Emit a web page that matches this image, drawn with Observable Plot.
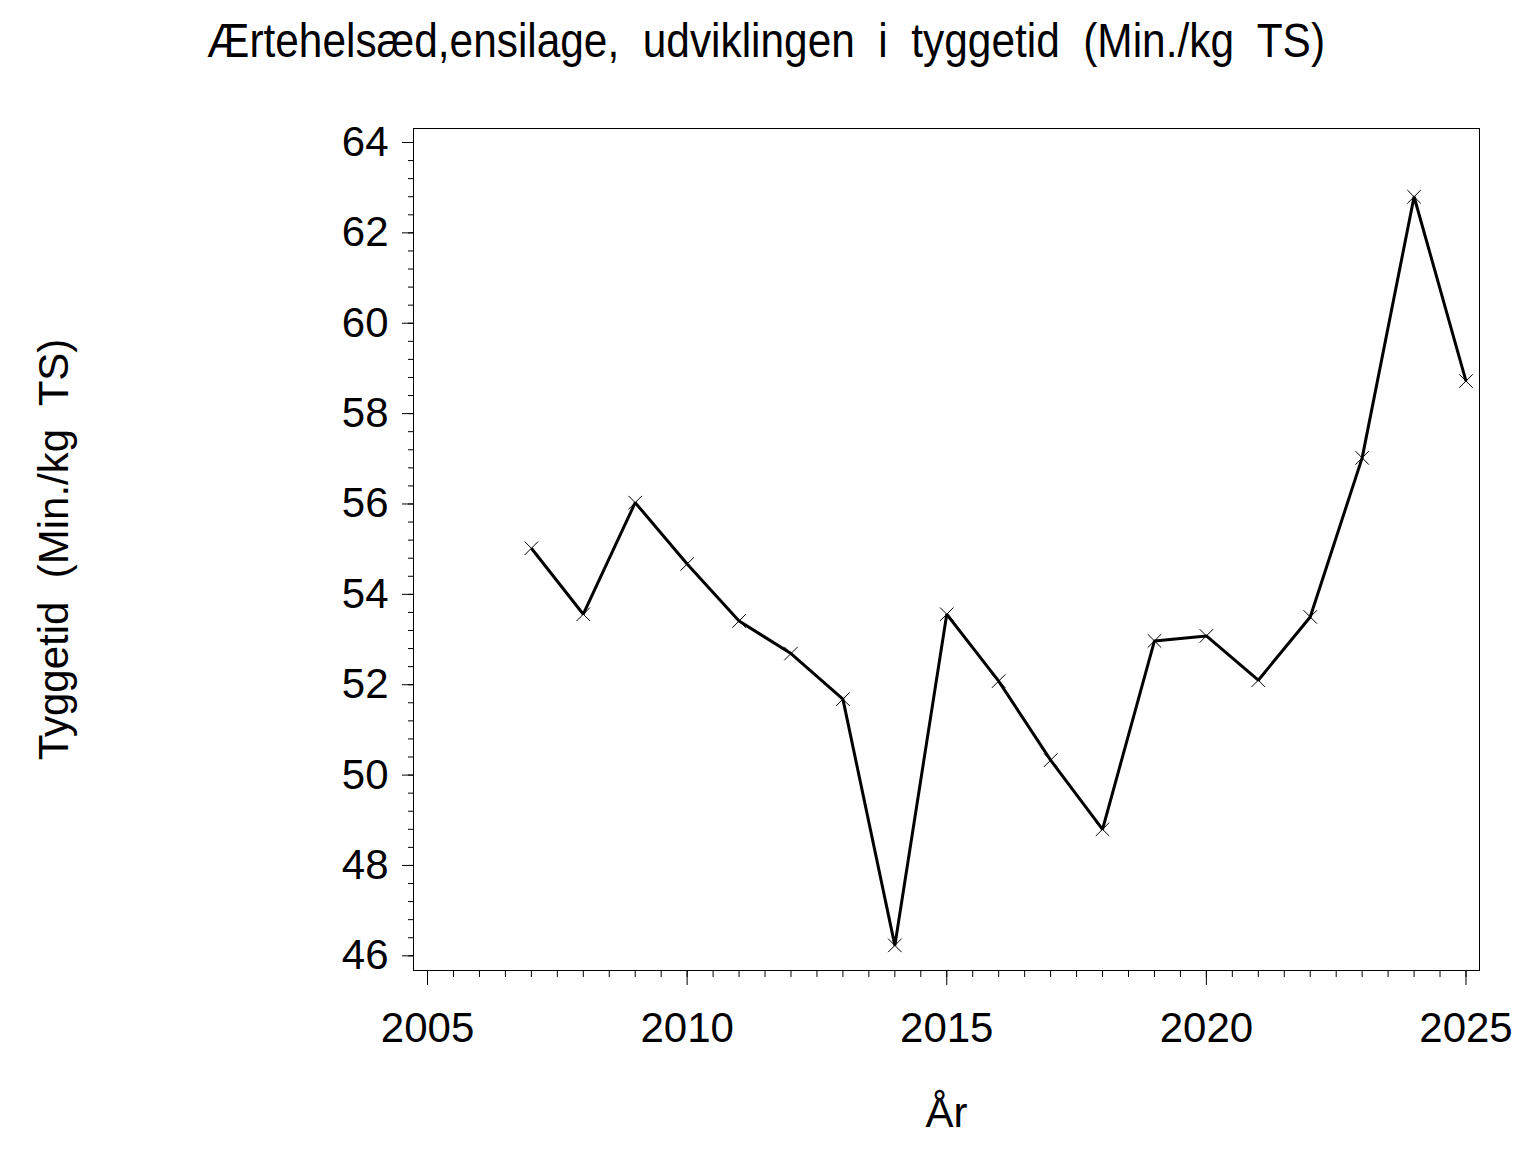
<!DOCTYPE html>
<html>
<head>
<meta charset="utf-8">
<script src="https://cdn.jsdelivr.net/npm/d3@7"></script>
<script src="https://cdn.jsdelivr.net/npm/@observablehq/plot@0.6"></script>
<style>
  html, body { margin: 0; padding: 0; background: #fff; }
  svg { display: block; }
  svg text { white-space: pre; }
</style>
</head>
<body>
<div id="chart"></div>
<script>
// ---- data ----
const years = [2007, 2008, 2009, 2010, 2011, 2012, 2013, 2014, 2015, 2016,
               2017, 2018, 2019, 2020, 2021, 2022, 2023, 2024, 2025];
const tyggetid = [55.02, 53.56, 56.03, 54.67, 53.41, 52.69, 51.68, 46.23, 53.56, 52.08,
                  50.33, 48.80, 52.97, 53.08, 52.10, 53.50, 57.02, 62.80, 58.72];
const xTickValues = [2005, 2010, 2015, 2020, 2025];
const yTickValues = [46, 48, 50, 52, 54, 56, 58, 60, 62, 64];
const titleText = "Ærtehelsæd,ensilage,  udviklingen  i  tyggetid  (Min./kg  TS)";
const xLabel = "År";
const yLabel = "Tyggetid  (Min./kg  TS)";

const xMinor = d3.range(0, 41).map(i => 2005 + i * 0.5);
const yMinor = d3.range(0, 46).map(i => 46 + i * 0.4);

const data = years.map((y, i) => ({year: y, value: tyggetid[i]}));
const fontFamily = "'Liberation Sans', Arial, Helvetica, sans-serif";

// ---- title (above the plot svg) ----
const tsvg = d3.create("svg").attr("width", 1536).attr("height", 88);
tsvg.append("text")
  .attr("x", 766).attr("y", 57)
  .attr("text-anchor", "middle")
  .attr("font-family", fontFamily)
  .attr("font-size", 48)
  .attr("fill", "#000")
  .attr("textLength", 1118)
  .attr("lengthAdjust", "spacingAndGlyphs")
  .text(titleText);
document.getElementById("chart").appendChild(tsvg.node());

// ---- plot ----
const chart = Plot.plot({
  width: 1536,
  height: 1064,
  marginTop: 40,
  marginBottom: 182,
  marginLeft: 413,
  marginRight: 57,
  style: {fontFamily, background: "#fff", color: "#000"},
  x: {domain: [2004.73, 2025.26], label: null},
  y: {domain: [45.675, 64.31], label: null},
  marks: [
    Plot.frame({stroke: "#000", strokeWidth: 1}),
    Plot.axisX({ticks: xMinor, tickSize: 7, tickFormat: () => "", label: null, stroke: "#000"}),
    Plot.axisX({ticks: xTickValues, tickSize: 15, tickPadding: 27, tickFormat: d => String(d),
                fontSize: 42, label: null, stroke: "#000", fill: "#000"}),
    Plot.axisY({ticks: yMinor, tickSize: 5, tickFormat: () => "", label: null, stroke: "#000"}),
    Plot.axisY({ticks: yTickValues, tickSize: 11, tickPadding: 14, tickFormat: d => String(d),
                fontSize: 42, label: null, stroke: "#000", fill: "#000"}),
    Plot.line(data, {x: "year", y: "value", stroke: "#000", strokeWidth: 3,
                     strokeLinejoin: "miter", strokeLinecap: "butt"}),
    Plot.dot(data, {x: "year", y: "value", symbol: "times", r: 6.2, stroke: "#000", strokeWidth: 1}),
    Plot.text([yLabel], {text: d => d, frameAnchor: "left", dx: -359, rotate: -90,
                         textAnchor: "middle", lineAnchor: "middle", fontSize: 42, fill: "#000"}),
    Plot.text([xLabel], {text: d => d, frameAnchor: "bottom", dy: 143,
                         textAnchor: "middle", lineAnchor: "middle", fontSize: 42, fill: "#000"})
  ]
});
document.getElementById("chart").appendChild(chart);
</script>
</body>
</html>
